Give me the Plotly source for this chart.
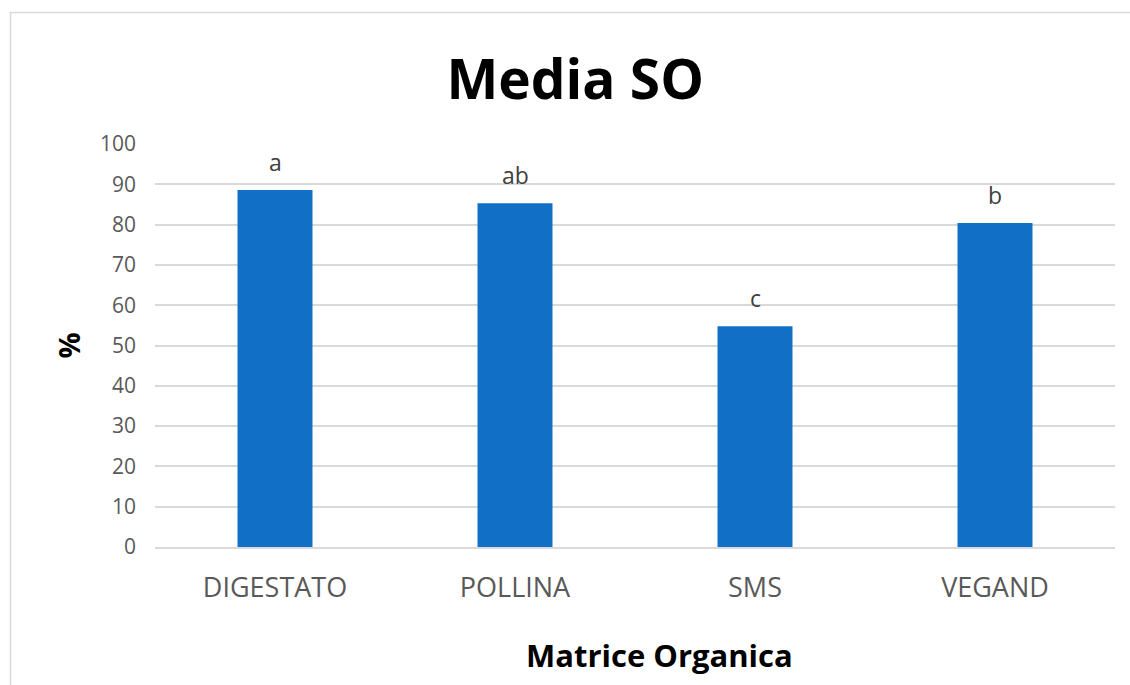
import plotly.graph_objects as go

# Mean organic matter (SO) per organic matrix, with significance letters
categories = ["DIGESTATO", "POLLINA", "SMS", "VEGAND"]
values = [88.6, 85.3, 54.8, 80.4]
letters = ["a", "ab", "c", "b"]
y_ticks = [0, 10, 20, 30, 40, 50, 60, 70, 80, 90, 100]

BAR_COLOR = "#1170C6"
TICK_COLOR = "#595959"
GRID_COLOR = "#D9D9D9"
FONT = "Open Sans, Liberation Sans, sans-serif"

fig = go.Figure(
    go.Bar(
        x=categories,
        y=values,
        marker=dict(color=BAR_COLOR, line=dict(width=0)),
        width=0.3125,
        hoverinfo="x+y",
    )
)

# significance letters above each bar
for cat, val, lab in zip(categories, values, letters):
    fig.add_annotation(
        x=cat, y=val, text=lab, showarrow=False,
        yanchor="bottom", yshift=10,
        font=dict(family=FONT, size=23, color="#404040"),
    )

# x-axis title, set slightly right of the plot centre
fig.add_annotation(
    text="<b>Matrice Organica</b>", showarrow=False,
    xref="paper", yref="paper", x=0.526, y=-0.268,
    xanchor="center", yanchor="middle",
    font=dict(family=FONT, size=31, color="black"),
)

# light outer frame of the chart area
fig.add_shape(
    type="rect", xref="paper", yref="paper",
    x0=-0.1505, y0=-0.4, x1=1.2, y1=1.326,
    line=dict(color="#D9D9D9", width=1.5), layer="below",
)

fig.update_layout(
    width=1130,
    height=685,
    margin=dict(l=155, r=15, t=144, b=138),
    paper_bgcolor="white",
    plot_bgcolor="white",
    showlegend=False,
    title=dict(
        text="<b>Media SO</b>",
        x=0.509, xanchor="center", xref="container",
        y=0.883, yanchor="middle", yref="container",
        font=dict(family=FONT, size=55, color="black"),
    ),
    font=dict(family=FONT),
)

fig.update_xaxes(
    showgrid=False,
    showline=True, linecolor=GRID_COLOR, linewidth=1.5,
    ticks="", ticklabelstandoff=16,
    tickfont=dict(family=FONT, size=27, color=TICK_COLOR),
    range=[-0.5, 3.5],
)

fig.update_yaxes(
    range=[0, 100],
    tickvals=y_ticks,
    showgrid=True, gridcolor=GRID_COLOR, gridwidth=1.5,
    zeroline=False, showline=False,
    ticks="", ticklabelstandoff=18,
    tickfont=dict(family=FONT, size=21, color=TICK_COLOR),
    title=dict(text="<b>%</b>", standoff=10,
               font=dict(family=FONT, size=29, color="black")),
)

fig.write_html("out.html")
